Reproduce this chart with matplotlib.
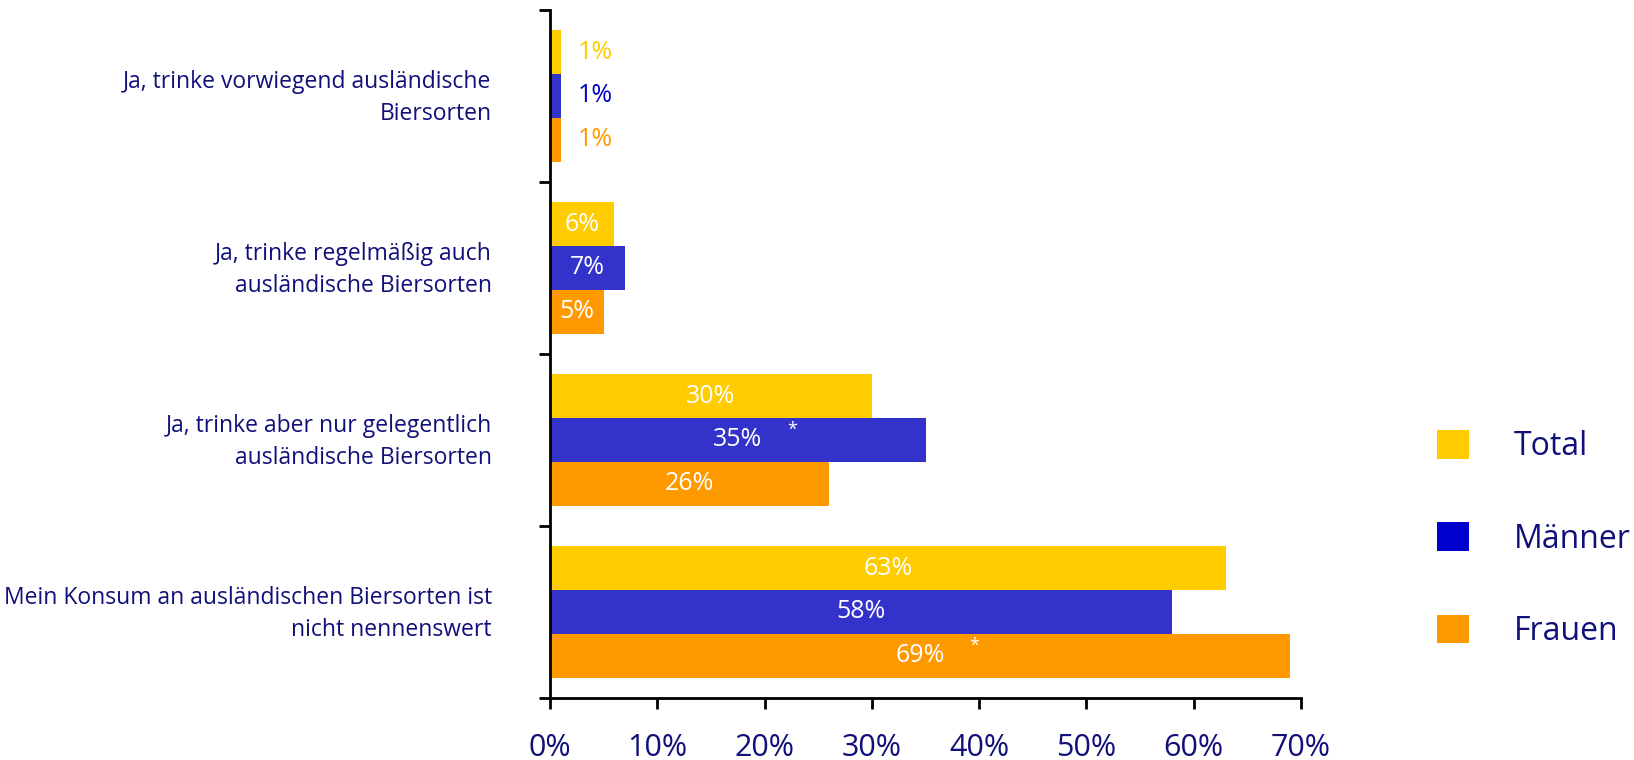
import matplotlib.pyplot as plt
from matplotlib.patches import Patch
import numpy as np

plt.rcParams['font.family'] = ['Open Sans', 'DejaVu Sans']

categories = [
    "Ja, trinke vorwiegend ausländische\nBiersorten",
    "Ja, trinke regelmäßig auch\nausländische Biersorten",
    "Ja, trinke aber nur gelegentlich\nausländische Biersorten",
    "Mein Konsum an ausländischen Biersorten ist\nnicht nennenswert",
]
series = ["Total", "Männer", "Frauen"]
total = [1, 6, 30, 63]
maenner = [1, 7, 35, 58]
frauen = [1, 5, 26, 69]
# significance stars (per series, per category)
stars_total = [False, False, False, False]
stars_maenner = [False, False, True, False]
stars_frauen = [False, False, False, True]
xticks = [0, 10, 20, 30, 40, 50, 60, 70]

bar_colors = ['#FFCC00', '#3333CC', '#FF9900']
legend_colors = ['#FFCC00', '#0000CC', '#FF9900']
navy = '#10107A'


def making_graph():
    fig = plt.figure(figsize=(16.34, 7.6), dpi=100)
    ax = fig.add_axes([550 / 1634, 1 - 698 / 760, 751 / 1634, 688 / 760])

    values = [total, maenner, frauen]
    stars = [stars_total, stars_maenner, stars_frauen]
    y = np.arange(len(categories))
    h = 0.255
    for i, (vals, col) in enumerate(zip(values, bar_colors)):
        pos = y + (i - 1) * h
        ax.barh(pos, vals, height=h, color=col, linewidth=0)
        for p, v, s in zip(pos, vals, stars[i]):
            if v < 3:
                ax.annotate(f"{v}%", (v, p), xytext=(12, 0), textcoords='offset points',
                            ha='left', va='center', fontsize=18, color=legend_colors[i])
            else:
                ax.text(v / 2, p, f"{v}%", ha='center', va='center',
                        fontsize=18, color='white')
            if s:
                ax.annotate("*", (v / 2, p), xytext=(39, 7), textcoords='offset points',
                            ha='center', va='center', fontsize=13, color='white')

    ax.set_xlim(0, 70)
    ax.set_ylim(3.5, -0.5)
    ax.set_xticks(xticks)
    ax.set_xticklabels([f"{t}%" for t in xticks])
    ax.set_yticks(y - 0.03)
    ax.set_yticklabels(categories, fontsize=16.5, color=navy, linespacing=1.45)
    ax.set_yticks(np.arange(-0.5, 4, 1), minor=True)
    ax.tick_params(axis='y', which='major', length=0, pad=42)
    ax.tick_params(axis='y', which='minor', length=8, width=2, direction='out')
    ax.tick_params(axis='x', length=8, width=2, direction='out', pad=17,
                   labelsize=22, labelcolor=navy)
    for sp in ['top', 'right']:
        ax.spines[sp].set_visible(False)
    for sp in ['left', 'bottom']:
        ax.spines[sp].set_linewidth(2)

    handles = [Patch(facecolor=c, edgecolor='none') for c in legend_colors]
    leg = fig.legend(handles, series, loc='center left',
                     bbox_to_anchor=(1437 / 1634, 1 - 539 / 760),
                     frameon=False, fontsize=23, handlelength=1.0, handleheight=1.0,
                     handletextpad=1.4, labelspacing=1.85, borderpad=0, borderaxespad=0)
    for t in leg.get_texts():
        t.set_color(navy)

    fig.savefig('out.png', dpi=100)


def main():
    making_graph()


if __name__ == "__main__":
    main()
